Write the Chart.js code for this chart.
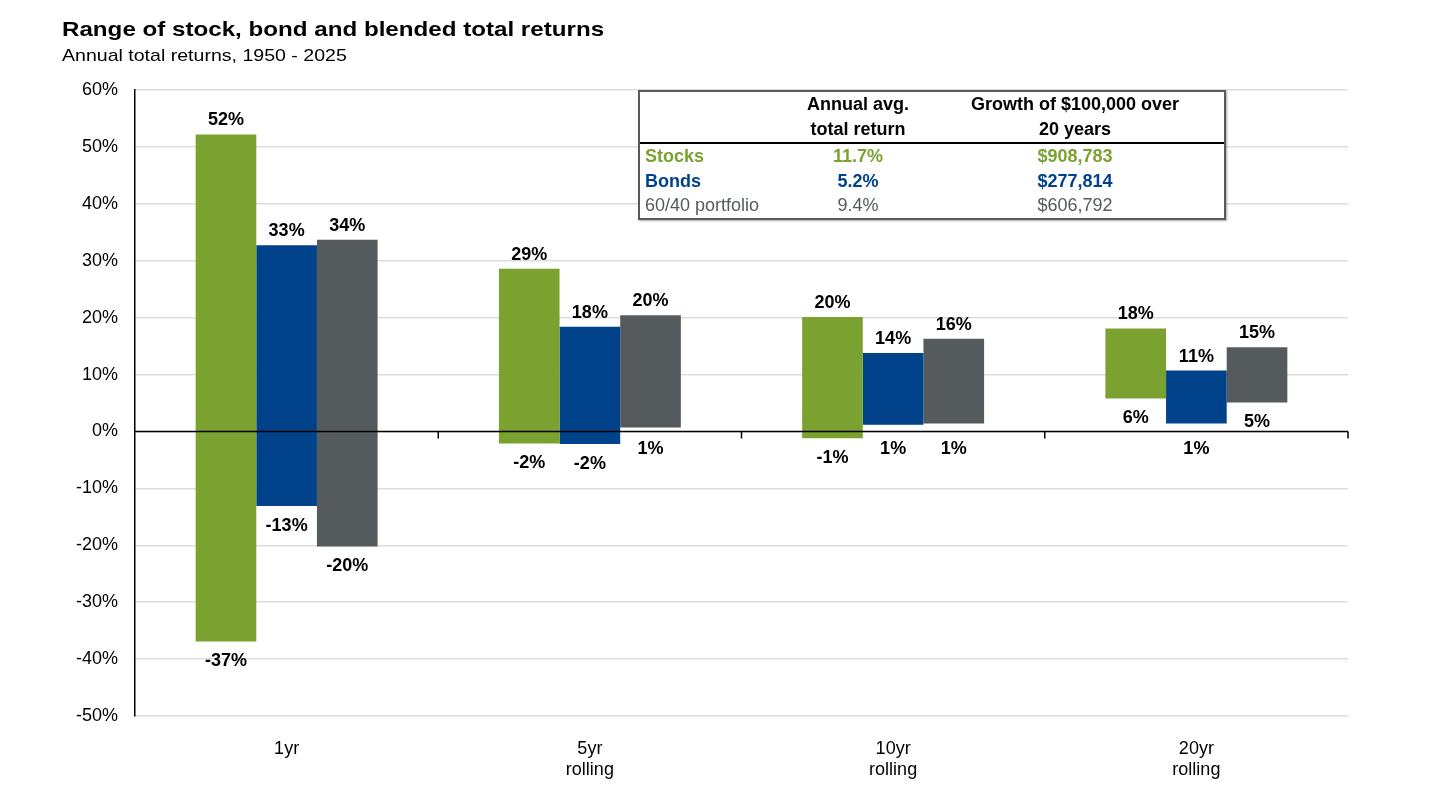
<!DOCTYPE html>
<html>
<head>
<meta charset="utf-8">
<script src="https://cdn.jsdelivr.net/npm/chart.js@4.4.1/dist/chart.umd.min.js"></script>
<style>
  html, body { margin:0; padding:0; background:#fff; }
  body { width:1430px; height:804px; position:relative; overflow:hidden; font-family:"Liberation Sans", Arial, sans-serif; }
  #wrap { position:absolute; left:0; top:0; width:1430px; height:804px; }
  .title { position:absolute; left:62px; top:17px; font-size:21px; font-weight:bold; color:#000; white-space:nowrap; transform:scaleX(1.15); transform-origin:left top; }
  .sub { position:absolute; left:62px; top:46px; font-size:17px; color:#000; white-space:nowrap; transform:scaleX(1.15); transform-origin:left top; }
  #tbl { position:absolute; left:638px; top:90px; width:588px; height:130px; box-sizing:border-box;
         border:2px solid #5a5a5a; background:#fff; box-shadow:1px 1px 2px rgba(0,0,0,.35); }
  #tbl table { border-collapse:collapse; width:100%; font-size:18px; }
  #tbl th { font-weight:bold; line-height:25px; height:50px; padding:0; vertical-align:top; border-bottom:2px solid #000; color:#000; }
  #tbl td { height:24.5px; line-height:24.5px; padding:0; text-align:center; font-weight:bold; }
  #tbl td:first-child { text-align:left; padding-left:5px; }
  .c1 { width:150px; } .c2 { width:136px; }
</style>
</head>
<body>
<div id="wrap"><canvas id="chart" width="1430" height="804"></canvas></div>
<div class="title">Range of stock, bond and blended total returns</div>
<div class="sub">Annual total returns, 1950 - 2025</div>
<div id="tbl">
  <table>
    <tr><th class="c1"></th><th class="c2">Annual avg.<br>total return</th><th>Growth of $100,000 over<br>20 years</th></tr>
    <tr style="color:#7ba131"><td>Stocks</td><td>11.7%</td><td>$908,783</td></tr>
    <tr style="color:#00438a"><td>Bonds</td><td>5.2%</td><td>$277,814</td></tr>
    <tr style="color:#555a5d"><td style="font-weight:normal">60/40 portfolio</td><td style="font-weight:normal">9.4%</td><td style="font-weight:normal">$606,792</td></tr>
  </table>
</div>
<script>
const $ = (id) => document.getElementById(id);

// categorias y valores (rango min / max por horizonte)
const periods = [["1yr"], ["5yr", "rolling"], ["10yr", "rolling"], ["20yr", "rolling"]];
const stocksHigh = [52.2, 28.6, 20.1, 18.1];
const stocksLow  = [-36.9, -2.1, -1.2, 5.8];
const bondsHigh  = [32.7, 18.4, 13.8, 10.7];
const bondsLow   = [-13.1, -2.2, 1.2, 1.4];
const mixHigh    = [33.7, 20.4, 16.3, 14.8];
const mixLow     = [-20.2, 0.7, 1.4, 5.1];
const yTicks = [-50, -40, -30, -20, -10, 0, 10, 20, 30, 40, 50, 60];

const GREEN = "#7ba131";
const BLUE = "#00438a";
const GRAY = "#555a5d";
const FONT = "'Liberation Sans', Arial, sans-serif";

function pairs(lo, hi){
  return lo.map((v, i) => [v, hi[i]]);
}
function pct(n){ return Math.round(n) + "%"; }

// etiquetas arriba / abajo de cada barra
const rangeLabels = {
  id: "rangeLabels",
  afterDatasetsDraw(chart){
    const { ctx } = chart;
    const y0 = chart.scales.y.getPixelForValue(0);
    ctx.save();
    ctx.font = "bold 18px " + FONT;
    ctx.fillStyle = "#000";
    ctx.textAlign = "center";
    ctx.textBaseline = "middle";
    chart.data.datasets.forEach((ds, di) => {
      const meta = chart.getDatasetMeta(di);
      meta.data.forEach((bar, i) => {
        const [lo, hi] = ds.data[i];
        const top = Math.min(bar.y, bar.base);
        const bot = Math.max(bar.y, bar.base);
        ctx.fillText(pct(hi), bar.x, top - 14);
        let yb = bot + 20;
        // si queda pegado a la linea del cero, bajarlo
        if (yb > y0 - 8 && yb < y0 + 18) yb = y0 + 18;
        ctx.fillText(pct(lo), bar.x, yb);
      });
    });
    ctx.restore();
  }
};

// linea del cero con marcas entre categorias
const zeroLine = {
  id: "zeroLine",
  afterDatasetsDraw(chart){
    const { ctx, chartArea } = chart;
    const x = chart.scales.x;
    const y0 = chart.scales.y.getPixelForValue(0);
    ctx.save();
    ctx.strokeStyle = "#000";
    ctx.lineWidth = 1.5;
    ctx.beginPath();
    ctx.moveTo(chartArea.left, y0);
    ctx.lineTo(chartArea.right, y0);
    for (let i = 1; i <= periods.length; i++){
      const px = i < periods.length
        ? (x.getPixelForValue(i - 1) + x.getPixelForValue(i)) / 2
        : chartArea.right;
      ctx.moveTo(px, y0);
      ctx.lineTo(px, y0 + 7);
    }
    ctx.stroke();
    ctx.restore();
  }
};

new Chart($("chart"), {
  type: "bar",
  data: {
    labels: periods,
    datasets: [
      { label: "Stocks", data: pairs(stocksLow, stocksHigh), backgroundColor: GREEN },
      { label: "Bonds", data: pairs(bondsLow, bondsHigh), backgroundColor: BLUE },
      { label: "60/40 portfolio", data: pairs(mixLow, mixHigh), backgroundColor: GRAY }
    ]
  },
  options: {
    responsive: false,
    animation: false,
    layout: { padding: { left: 0, right: 82, top: 90, bottom: 0 } },
    datasets: { bar: { categoryPercentage: 0.6, barPercentage: 1.0, borderSkipped: false } },
    plugins: { legend: { display: false }, tooltip: { enabled: false }, title: { display: false } },
    scales: {
      x: {
        grid: { display: false },
        border: { display: false },
        ticks: { color: "#000", font: { size: 18, family: FONT }, padding: 14, maxRotation: 0 },
        afterFit: (s) => { s.height = 88; }
      },
      y: {
        min: -50, max: 60,
        afterBuildTicks: (s) => { s.ticks = yTicks.map(v => ({ value: v })); },
        grid: { color: "#dddddd", lineWidth: 1.5, drawTicks: false },
        border: { display: true, color: "#000", width: 1.5 },
        ticks: { color: "#000", font: { size: 18, family: FONT }, padding: 17, callback: (v) => v + "%" },
        afterFit: (s) => { s.width = 135; }
      }
    }
  },
  plugins: [rangeLabels, zeroLine]
});
</script>
</body>
</html>
